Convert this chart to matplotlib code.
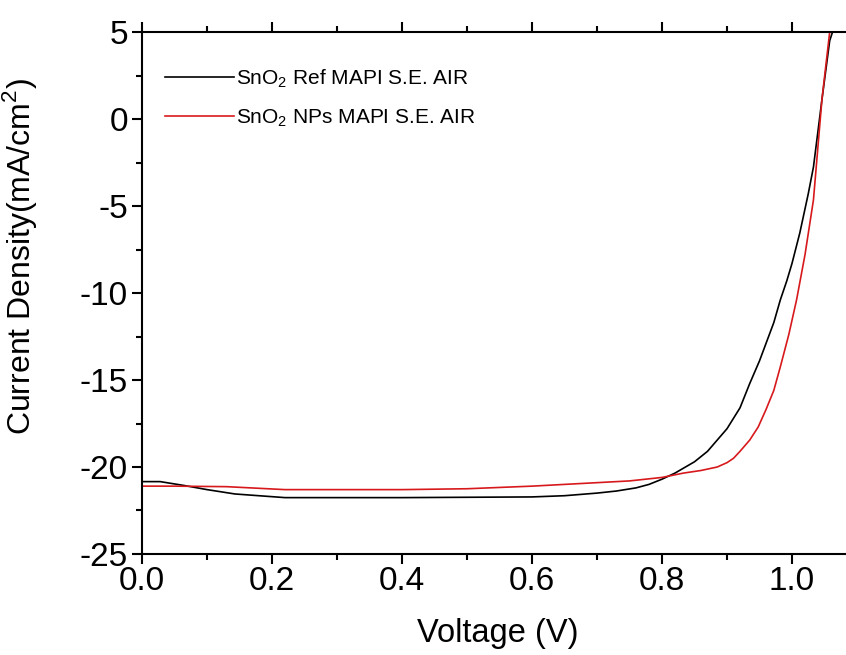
import matplotlib
matplotlib.use("Agg")
import matplotlib.pyplot as plt
import matplotlib.ticker as mticker

plt.rcParams["font.family"] = ["Liberation Sans", "DejaVu Sans"]
plt.rcParams["mathtext.fontset"] = "custom"
plt.rcParams["mathtext.rm"] = "Liberation Sans"
plt.rcParams["axes.unicode_minus"] = False

# J-V curves
v_ref = [0.0, 0.028, 0.066, 0.10, 0.143, 0.22, 0.30, 0.40, 0.50, 0.60, 0.65,
         0.70, 0.73, 0.76, 0.78, 0.80, 0.82, 0.85, 0.87, 0.885, 0.90, 0.92,
         0.935, 0.95, 0.96, 0.972, 0.982, 0.992, 1.0, 1.012, 1.025, 1.033,
         1.046, 1.058, 1.065]
j_ref = [-20.84, -20.84, -21.07, -21.3, -21.55, -21.76, -21.76, -21.76, -21.74,
         -21.72, -21.65, -21.5, -21.38, -21.2, -21.0, -20.7, -20.35, -19.7,
         -19.1, -18.45, -17.8, -16.6, -15.2, -13.9, -12.9, -11.7, -10.4, -9.3,
         -8.3, -6.55, -4.3, -2.76, 1.1, 4.5, 5.3]

v_nps = [0.0, 0.05, 0.13, 0.22, 0.30, 0.40, 0.50, 0.60, 0.65, 0.70, 0.75, 0.80,
         0.833, 0.86, 0.885, 0.90, 0.91, 0.92, 0.935, 0.948, 0.96, 0.972,
         0.982, 0.995, 1.007, 1.02, 1.033, 1.046, 1.058, 1.062]
j_nps = [-21.1, -21.1, -21.13, -21.3, -21.3, -21.3, -21.25, -21.1, -21.0,
         -20.9, -20.8, -20.6, -20.35, -20.2, -20.0, -19.75, -19.5, -19.1,
         -18.45, -17.7, -16.7, -15.6, -14.25, -12.4, -10.4, -7.8, -4.65, 1.1,
         5.0, 6.0]

labels = [r"SnO$_\mathregular{2}$ Ref MAPI S.E. AIR",
          r"SnO$_\mathregular{2}$ NPs MAPI S.E. AIR"]
colors = ["black", "#d7191c"]

fig = plt.figure(figsize=(8.46, 6.55), dpi=100)
# the original figure is cropped on the right, so the axes run past the edge
ax = fig.add_axes([142 / 846, 101 / 655, 712 / 846, 522 / 655])

ax.plot(v_ref, j_ref, color=colors[0], lw=1.2, label=labels[0])
ax.plot(v_nps, j_nps, color=colors[1], lw=1.2, label=labels[1])

ax.set_xlim(0, 712 / 650)
ax.set_ylim(-25, 5)
ax.xaxis.set_major_locator(mticker.MultipleLocator(0.2))
ax.xaxis.set_minor_locator(mticker.MultipleLocator(0.1))
ax.yaxis.set_major_locator(mticker.MultipleLocator(5))
ax.yaxis.set_minor_locator(mticker.MultipleLocator(2.5))
ax.xaxis.set_major_formatter(mticker.FormatStrFormatter("%.1f"))

ax.tick_params(which="both", direction="out", width=1.5, top=True,
               labelsize=24)
ax.tick_params(which="major", length=7)
ax.tick_params(which="minor", length=4.5)
ax.tick_params(axis="x", pad=2)
ax.tick_params(axis="y", pad=3)
for sp in ax.spines.values():
    sp.set_linewidth(1.5)

ax.set_xlabel("Voltage (V)", fontsize=23.5, labelpad=15)
ax.set_ylabel(r"Current Density(mA/cm$^\mathregular{2}$)", fontsize=23)
ax.yaxis.set_label_coords(-0.144, 0.57)

ax.legend(loc="upper left", frameon=False, fontsize=15, handlelength=3.3,
          handletextpad=0.1, labelspacing=0.85, bbox_to_anchor=(-0.006, 0.985),
          borderaxespad=0.9)

fig.savefig("out.png", dpi=100)
